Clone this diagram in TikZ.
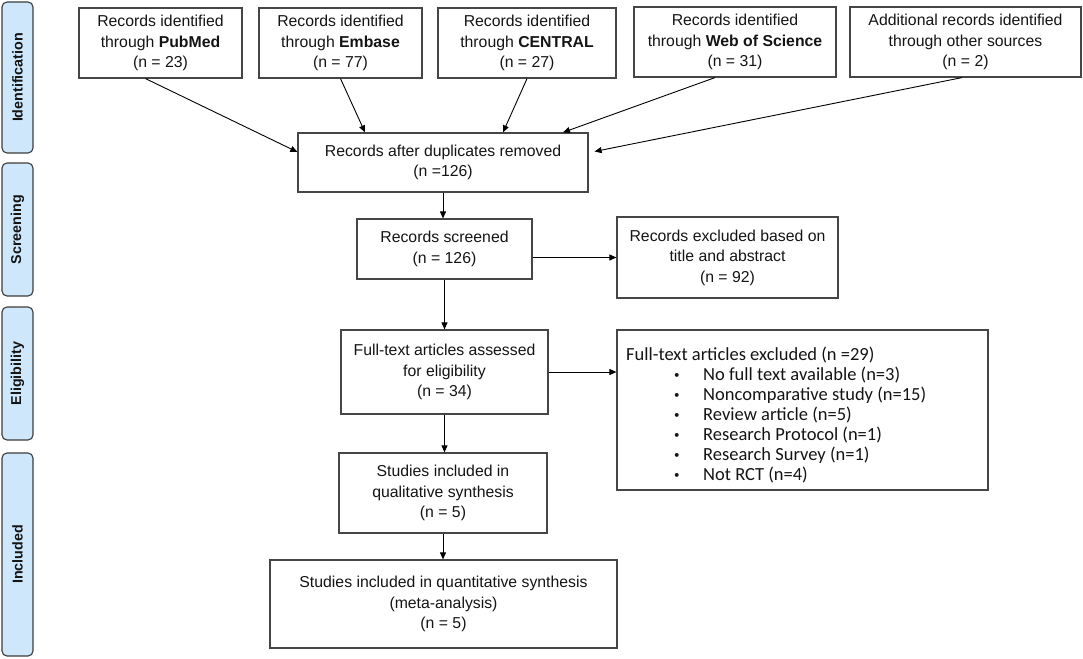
\documentclass[tikz,border=0pt]{standalone}
\usepackage{fontspec}
\setmainfont{Liberation Sans}
\newfontfamily\calfont{Carlito}
\usetikzlibrary{arrows.meta,calc}
\definecolor{bandfill}{RGB}{207,231,251}
\definecolor{bandline}{RGB}{60,60,60}
\definecolor{boxline}{RGB}{70,70,70}
\definecolor{txt}{RGB}{20,20,20}
\newcommand{\bul}{\hspace*{48pt}\makebox[29pt][l]{\raisebox{1.5pt}{\fontsize{11}{11}\selectfont •}}}
\begin{document}
\begin{tikzpicture}[x=1pt,y=-1pt,
  box/.style={draw=boxline, line width=1.2pt, align=center, inner sep=0pt,
    font=\fontsize{15.8}{20.5}\selectfont, text=txt},
  band/.style={draw=bandline, fill=bandfill, rounded corners=5pt, line width=1.1pt,
    rotate=90, inner sep=0pt, minimum height=31pt,
    font=\fontsize{14.3}{18}\selectfont\bfseries, text=txt},
  arr/.style={-{Triangle[length=7pt,width=6pt]}, line width=0.9pt, black}]
\useasboundingbox (0,0) rectangle (1083,658);

% phase bands
\node[band, minimum width=151pt] (bid) at (17.5,77.5) {Identification};
\node[band, minimum width=133pt] (bsc) at (17.5,229.5) {Screening};
\node[band, minimum width=133pt] (bel) at (17.5,373.5) {Eligibility};
\node[band, minimum width=203pt] (bin) at (17.5,554.5) {Included};

% identification boxes
\node[box, minimum width=163pt, minimum height=70pt] (pub) at (160.5,43) {Records identified\\through \textbf{PubMed}\\(n = 23)};
\node[box, minimum width=163pt, minimum height=70pt] (emb) at (340.5,43) {Records identified\\through \textbf{Embase}\\(n = 77)};
\node[box, minimum width=178pt, minimum height=70pt] (cen) at (527,43) {Records identified\\through \textbf{CENTRAL}\\(n = 27)};
\node[box, minimum width=202pt, minimum height=70pt] (wos) at (735,42) {Records identified\\through \textbf{Web of Science}\\(n = 31)};
\node[box, minimum width=231pt, minimum height=70pt] (add) at (965.5,42) {Additional records identified\\through other sources\\(n = 2)};

% main flow
\node[box, minimum width=290pt, minimum height=59pt] (dup) at (443,162.5) {Records after duplicates removed\\(n =126)};
\node[box, minimum width=175pt, minimum height=60pt] (scr) at (444.5,249) {Records screened\\(n = 126)};
\node[box, minimum width=221pt, minimum height=81pt] (ex1) at (727.5,257.5) {Records excluded based on\\title and abstract\\(n = 92)};
\node[box, minimum width=207pt, minimum height=84pt] (ft) at (444.5,372) {Full-text articles assessed\\for eligibility\\(n = 34)};
\node[box, minimum width=371pt, minimum height=160pt] (ex2) at (802.5,410) {};
\node[anchor=west, align=left, inner sep=0pt, text=txt,
  font=\calfont\fontsize{18.5}{20}\selectfont] (ex2txt) at (626,415)
  {Full-text articles excluded (n =29)\\
   \bul No full text available (n=3)\\
   \bul Noncomparative study (n=15)\\
   \bul Review article (n=5)\\
   \bul Research Protocol (n=1)\\
   \bul Research Survey (n=1)\\
   \bul Not RCT (n=4)};
\node[box, minimum width=208pt, minimum height=80pt] (qual) at (443,493) {Studies included in\\qualitative synthesis\\(n = 5)};
\node[box, minimum width=347pt, minimum height=88pt] (fin) at (443.5,604) {Studies included in quantitative synthesis\\(meta-analysis)\\(n = 5)};

% connectors
\draw[arr] ($(pub.south)+(-15,0)$) -- ($(dup.west)+(0,-10.5)$);
\draw[arr] (emb.south) -- ($(dup.north)+(-78,0)$);
\draw[arr] (cen.south) -- ($(dup.north)+(60,0)$);
\draw[arr] ($(wos.south)+(-20,0)$) -- ($(dup.north)+(120,0)$);
\draw[arr] ($(add.south)+(-3.5,0)$) -- ($(dup.east)+(6,-11)$);
\draw[arr] (dup.south) -- (dup.south |- scr.north);
\draw[arr] (scr.east |- ex1.west) -- (ex1.west);
\draw[arr] (scr.south) -- (scr.south |- ft.north);
\draw[arr] (ft.east) -- (ft.east -| ex2.west);
\draw[arr] (ft.south) -- (ft.south |- qual.north);
\draw[arr] (qual.south) -- (qual.south |- fin.north);
\end{tikzpicture}
\end{document}
